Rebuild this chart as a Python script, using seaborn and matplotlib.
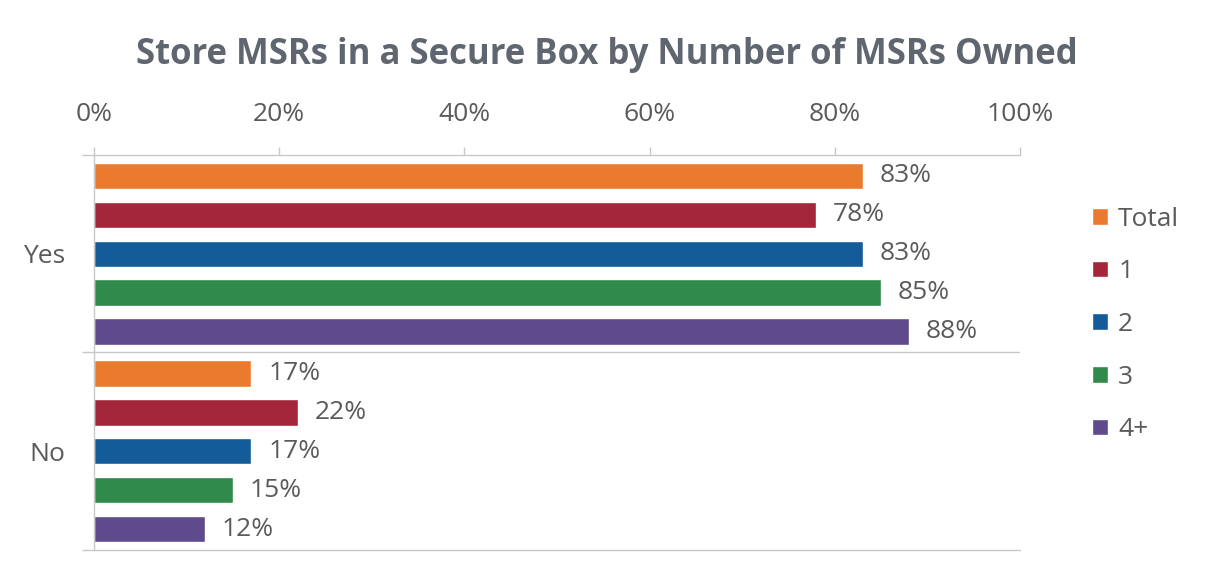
import matplotlib
matplotlib.use("Agg")
import matplotlib.pyplot as plt
from matplotlib.ticker import FixedLocator, PercentFormatter
import pandas as pd
import seaborn as sns

# Survey results: share storing MSRs in a secure box, split by number owned
answers = ["Yes", "No"]
groups = ["Total", "1", "2", "3", "4+"]
yes_values = [83, 78, 83, 85, 88]
no_values = [17, 22, 17, 15, 12]
colors = ["#EA7A2E", "#A3263B", "#135C99", "#2F8A4B", "#5E4A8D"]

df = pd.DataFrame({
    "answer": [a for a in answers for _ in groups],
    "group": groups * len(answers),
    "value": yes_values + no_values,
})

sns.set_theme(style="white")
plt.rcParams["font.family"] = ["Open Sans", "DejaVu Sans"]

text_gray = "#5A5A5A"
line_gray = "#C8C8C8"
fs = 19

fig = plt.figure(figsize=(12.07, 5.80), dpi=100)
ax = fig.add_axes([0.0779, 0.0517, 0.845 - 0.0779, 0.7328 - 0.0517])

sns.barplot(
    data=df, y="answer", x="value", hue="group", order=answers,
    hue_order=groups, palette=colors, orient="h", width=0.985, gap=0.32,
    saturation=1, ax=ax, legend=True,
)

for container in ax.containers:
    ax.bar_label(container, labels=[f"{v:.0f}%" for v in container.datavalues],
                 padding=12, fontsize=fs, color=text_gray)

ax.set_xlim(0, 100)
ax.set_ylim(1.5, -0.5)
ax.set_xlabel("")
ax.set_ylabel("")

# Value axis on top
ax.xaxis.set_ticks_position("top")
ax.xaxis.set_label_position("top")
ax.set_xticks([0, 20, 40, 60, 80, 100])
ax.xaxis.set_major_formatter(PercentFormatter(decimals=0))
ax.tick_params(axis="x", which="major", direction="out", length=6, width=1,
               color=line_gray, labelcolor=text_gray, labelsize=fs, pad=14,
               top=True, bottom=False)

# Category axis with boundary ticks between groups
ax.set_yticks([0, 1])
ax.set_yticklabels(answers)
ax.yaxis.set_minor_locator(FixedLocator([-0.5, 0.5, 1.5]))
ax.tick_params(axis="y", which="major", length=0, labelcolor=text_gray,
               labelsize=fs, pad=21)
ax.tick_params(axis="y", which="minor", direction="out", length=9, width=1,
               color=line_gray, left=True)
ax.axhline(0.5, color=line_gray, lw=1, zorder=0)

for side in ["top", "left", "bottom"]:
    ax.spines[side].set_visible(True)
    ax.spines[side].set_color(line_gray)
    ax.spines[side].set_linewidth(1)
ax.spines["right"].set_visible(False)

leg = ax.legend(
    loc="center left", bbox_to_anchor=(1.052, 0.571), frameon=False,
    fontsize=fs, labelcolor=text_gray, handlelength=0.6, handleheight=0.6,
    handletextpad=0.4, labelspacing=1.05,
)

fig.text(0.503, 0.905, "Store MSRs in a Secure Box by Number of MSRs Owned",
         ha="center", va="center", fontsize=25, fontweight="bold",
         color="#5F6670")

fig.savefig("out.png", dpi=100, facecolor="white")
